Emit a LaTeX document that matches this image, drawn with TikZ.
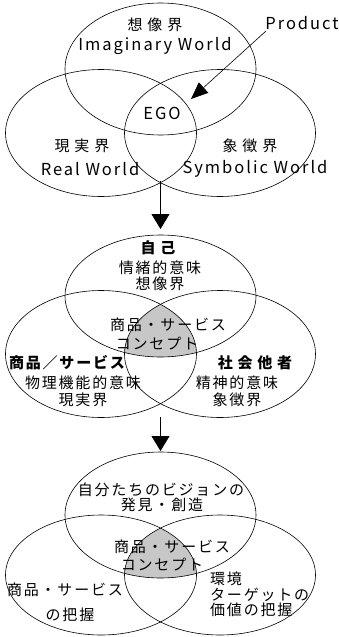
\documentclass[tikz,border=0pt]{standalone}
\usepackage{fontspec}
\setmainfont{Noto Sans CJK JP}[LetterSpace=12]
\newfontfamily\jpwide{Noto Sans CJK JP}[LetterSpace=32]
\usetikzlibrary{shapes.geometric,arrows.meta}
\tikzset{
  venn/.style={ellipse,draw,line width=0.6pt,inner sep=0pt,outer sep=0pt},
  lbl/.style={inner sep=0pt,font=\fontsize{15pt}{17pt}\selectfont,align=center},
  wlbl/.style={inner sep=0pt,font=\fontsize{15pt}{17pt}\selectfont\jpwide},
  lat/.style={inner sep=0pt,font=\fontsize{16.5pt}{18pt}\selectfont},
  bld/.style={lbl,font=\fontsize{15pt}{17pt}\selectfont\bfseries},
  wbld/.style={lbl,font=\fontsize{15pt}{17pt}\selectfont\jpwide\bfseries},
  arr/.style={line width=0.8pt,-{Triangle[width=18pt,length=15pt]}},
  parr/.style={line width=0.6pt,-{Triangle[width=14pt,length=17pt]}},
  grey/.style={fill=black!22}
}
\begin{document}
\begin{tikzpicture}[x=1pt,y=-1pt]
\useasboundingbox (0,0) rectangle (339,637);
% ---------- diagram 1
\node[venn,minimum width=191pt,minimum height=132pt] (t1) at (160.5,69) {};
\node[venn,minimum width=191pt,minimum height=127pt] (l1) at (101,133) {};
\node[venn,minimum width=191pt,minimum height=127pt] (r1) at (220,133) {};
\node[wlbl] (a1) at (155,25) {想像界};
\node[lat] (a2) at (155,46) {Imaginary World};
\node[lat] (a3) at (162,113) {EGO};
\node[wlbl] (a4) at (82,146) {現実界};
\node[lat] (a5) at (90,169) {Real World};
\node[wlbl] (a6) at (250,146) {象徴界};
\node[lat] (a7) at (255,169) {Symbolic World};
\node[lat] (prod) at (302,23) {Product};
\coordinate (ps) at (266,31);
\coordinate (pe) at (191,99);
\draw[parr] (ps) -- (pe);
\coordinate (s1) at (160.5,181);
\coordinate (e1) at (160.5,229);
\draw[arr] (s1) -- (e1);
% ---------- diagram 2
\begin{scope}
\clip (160.5,296) ellipse [x radius=95.5pt,y radius=61pt];
\clip (101,354) ellipse [x radius=95.5pt,y radius=63.5pt];
\fill[grey] (220,354) ellipse [x radius=95.5pt,y radius=63.5pt];
\end{scope}
\node[venn,minimum width=191pt,minimum height=122pt] (t2) at (160.5,296) {};
\node[venn,minimum width=191pt,minimum height=127pt] (l2) at (101,354) {};
\node[venn,minimum width=191pt,minimum height=127pt] (r2) at (220,354) {};
\node[wbld] (b1) at (158,248) {自己};
\node[lbl] (b2) at (160,268) {情緒的意味};
\node[lbl] (b3) at (160,284) {想像界};
\node[lbl] (b4) at (168,325) {商品・サービス};
\node[lbl] (b5) at (157,344) {コンセプト};
\node[bld] (b6) at (67,363) {商品／サービス};
\node[lbl] (b7) at (83,383) {物理機能的意味};
\node[lbl] (b8) at (83,400) {現実界};
\node[wbld] (b9) at (255,363) {社会他者};
\node[lbl] (b10) at (237,383) {精神的意味};
\node[lbl] (b11) at (237,400) {象徴界};
\coordinate (s2) at (160.5,417);
\coordinate (e2) at (160.5,451);
\draw[arr] (s2) -- (e2);
% ---------- diagram 3
\begin{scope}
\clip (160.5,515) ellipse [x radius=95.5pt,y radius=63pt];
\clip (101,575) ellipse [x radius=95.5pt,y radius=60pt];
\fill[grey] (220,575) ellipse [x radius=95.5pt,y radius=60pt];
\end{scope}
\node[venn,minimum width=191pt,minimum height=126pt] (t3) at (160.5,515) {};
\node[venn,minimum width=191pt,minimum height=120pt] (l3) at (101,575) {};
\node[venn,minimum width=191pt,minimum height=120pt] (r3) at (220,575) {};
\node[lbl] (c1) at (161,490) {自分たちのビジョンの};
\node[lbl] (c2) at (162,505) {発見・創造};
\node[lbl] (c3) at (172,547) {商品・サービス};
\node[lbl] (c4) at (162,565) {コンセプト};
\node[lbl] (c5) at (65,590) {商品・サービス};
\node[lbl] (c6) at (70,615) {の把握};
\node[lbl,anchor=west] (c7) at (210,579) {環境};
\node[lbl,anchor=west] (c8) at (210,595) {ターゲットの};
\node[lbl,anchor=west] (c9) at (210,610) {価値の把握};
\end{tikzpicture}
\end{document}
